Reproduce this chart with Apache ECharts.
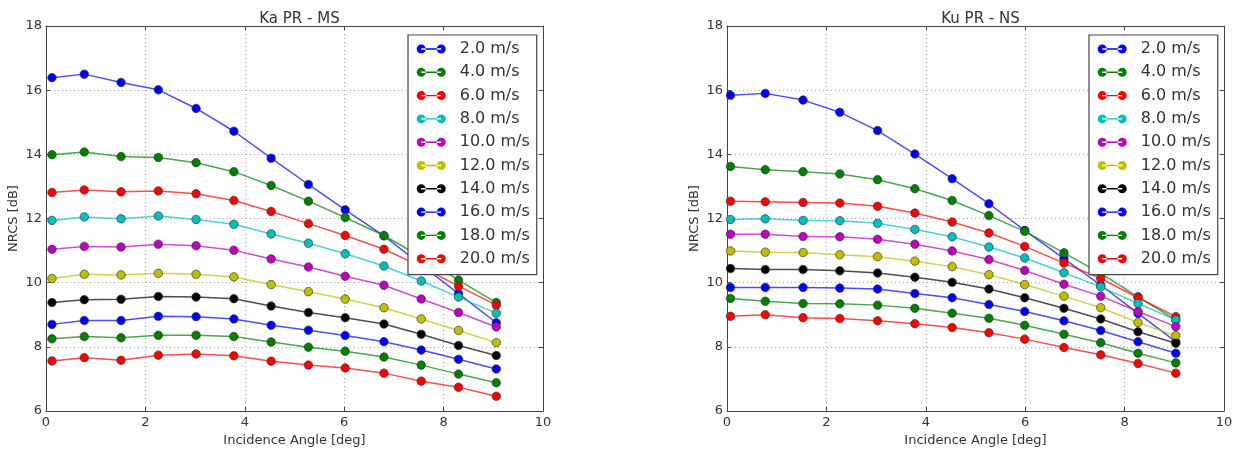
<!DOCTYPE html>
<html>
<head>
<meta charset="utf-8">
<script src="https://cdn.jsdelivr.net/npm/echarts@6/dist/echarts.min.js"></script>
<style>
html,body{margin:0;padding:0;background:#fff;}
#chart{width:1238px;height:460px;}
</style>
</head>
<body>
<div id="chart"></div>
<script>
// ---- data ----
const panelTitles = ['Ka PR - MS', 'Ku PR - NS'];
const xAxisName = 'Incidence Angle [deg]';
const yAxisName = 'NRCS [dB]';
const xTicks = [0, 2, 4, 6, 8, 10];
const yTicks = [6, 8, 10, 12, 14, 16, 18];
const speedLabels = ['2.0 m/s','4.0 m/s','6.0 m/s','8.0 m/s','10.0 m/s','12.0 m/s','14.0 m/s','16.0 m/s','18.0 m/s','20.0 m/s'];
const speedColors = ['#0000ff','#008000','#ff0000','#00bfbf','#bf00bf','#bfbf00','#000000','#0000ff','#008000','#ff0000'];

const kaAngles = [0.12, 0.77, 1.51, 2.26, 3.02, 3.78, 4.53, 5.28, 6.02, 6.80, 7.55, 8.30, 9.06];
const kuAngles = [0.07, 0.77, 1.53, 2.27, 3.03, 3.78, 4.53, 5.27, 5.99, 6.78, 7.52, 8.27, 9.03];

const ka02 = [16.39, 16.50, 16.24, 16.01, 15.43, 14.72, 13.88, 13.06, 12.27, 11.46, 10.55, 9.66, 8.75];
const ka04 = [13.99, 14.07, 13.93, 13.90, 13.74, 13.46, 13.03, 12.54, 12.03, 11.47, 10.80, 10.08, 9.38];
const ka06 = [12.81, 12.89, 12.83, 12.86, 12.77, 12.56, 12.22, 11.84, 11.47, 11.04, 10.50, 9.89, 9.30];
const ka08 = [11.94, 12.05, 11.99, 12.08, 11.97, 11.82, 11.52, 11.23, 10.90, 10.52, 10.05, 9.55, 9.05];
const ka10 = [11.04, 11.13, 11.11, 11.20, 11.15, 11.01, 10.74, 10.49, 10.20, 9.92, 9.49, 9.07, 8.62];
const ka12 = [10.13, 10.26, 10.24, 10.29, 10.26, 10.18, 9.94, 9.72, 9.49, 9.22, 8.87, 8.51, 8.13];
const ka14 = [9.38, 9.47, 9.48, 9.57, 9.55, 9.50, 9.27, 9.07, 8.91, 8.71, 8.39, 8.04, 7.73];
const ka16 = [8.70, 8.82, 8.82, 8.95, 8.94, 8.87, 8.67, 8.52, 8.35, 8.16, 7.90, 7.61, 7.31];
const ka18 = [8.25, 8.32, 8.28, 8.36, 8.36, 8.32, 8.15, 7.99, 7.86, 7.68, 7.43, 7.15, 6.88];
const ka20 = [7.56, 7.66, 7.58, 7.74, 7.78, 7.72, 7.55, 7.43, 7.34, 7.18, 6.93, 6.74, 6.46];

const ku02 = [15.84, 15.90, 15.69, 15.31, 14.74, 14.01, 13.24, 12.46, 11.63, 10.75, 9.92, 9.04, 8.16];
const ku04 = [13.62, 13.52, 13.46, 13.39, 13.21, 12.93, 12.56, 12.09, 11.60, 10.93, 10.29, 9.56, 8.84];
const ku06 = [12.54, 12.52, 12.50, 12.48, 12.38, 12.17, 11.89, 11.55, 11.13, 10.61, 10.13, 9.53, 8.94];
const ku08 = [11.97, 11.99, 11.94, 11.93, 11.85, 11.66, 11.43, 11.11, 10.77, 10.31, 9.87, 9.35, 8.84];
const ku10 = [11.51, 11.51, 11.44, 11.43, 11.35, 11.20, 10.99, 10.72, 10.38, 9.95, 9.58, 9.10, 8.63];
const ku12 = [10.99, 10.95, 10.94, 10.87, 10.81, 10.67, 10.50, 10.25, 9.94, 9.58, 9.22, 8.76, 8.35];
const ku14 = [10.44, 10.41, 10.41, 10.37, 10.30, 10.17, 10.01, 9.80, 9.53, 9.20, 8.87, 8.47, 8.11];
const ku16 = [9.85, 9.85, 9.85, 9.83, 9.80, 9.66, 9.53, 9.32, 9.10, 8.81, 8.51, 8.16, 7.80];
const ku18 = [9.51, 9.42, 9.35, 9.34, 9.30, 9.20, 9.05, 8.89, 8.67, 8.39, 8.13, 7.80, 7.50];
const ku20 = [8.95, 9.00, 8.91, 8.88, 8.81, 8.72, 8.60, 8.44, 8.24, 7.98, 7.75, 7.48, 7.18];

const kaSeries = [ka02, ka04, ka06, ka08, ka10, ka12, ka14, ka16, ka18, ka20];
const kuSeries = [ku02, ku04, ku06, ku08, ku10, ku12, ku14, ku16, ku18, ku20];

// ---- chart ----
const FONT = 'DejaVu Sans';
const TXT = '#333333';
const SPINE = '#444444';
const xMin = xTicks[0], xMax = xTicks[xTicks.length - 1], xStep = xTicks[1] - xTicks[0];
const yMin = yTicks[0], yMax = yTicks[yTicks.length - 1], yStep = yTicks[1] - yTicks[0];

const grids = [
  {left: 46, top: 26, width: 497, height: 385},
  {left: 727, top: 26, width: 497, height: 385}
];

const xAxes = [], yAxes = [];
grids.forEach((g, i) => {
  xAxes.push({
    type: 'value', gridIndex: i, min: xMin, max: xMax, interval: xStep,
    name: xAxisName, nameLocation: 'middle', nameGap: 22,
    nameTextStyle: {fontFamily: FONT, fontSize: 13, color: TXT},
    axisLine: {show: true, onZero: false, lineStyle: {color: SPINE, width: 1}},
    axisTick: {show: true, inside: true, length: 4, lineStyle: {color: SPINE}},
    axisLabel: {fontFamily: FONT, fontSize: 13, color: TXT, margin: 5},
    splitLine: {show: true, lineStyle: {color: '#a8a8a8', type: [1, 3], width: 1}}
  });
  xAxes.push({
    type: 'value', gridIndex: i, position: 'top', min: xMin, max: xMax, interval: xStep,
    axisLine: {show: true, onZero: false, lineStyle: {color: SPINE, width: 1}},
    axisTick: {show: true, inside: true, length: 4, lineStyle: {color: SPINE}},
    axisLabel: {show: false}, splitLine: {show: false}
  });
  yAxes.push({
    type: 'value', gridIndex: i, min: yMin, max: yMax, interval: yStep,
    name: yAxisName, nameLocation: 'middle', nameGap: 26, nameRotate: 90,
    nameTextStyle: {fontFamily: FONT, fontSize: 13, color: TXT},
    axisLine: {show: true, onZero: false, lineStyle: {color: SPINE, width: 1}},
    axisTick: {show: true, inside: true, length: 4, lineStyle: {color: SPINE}},
    axisLabel: {fontFamily: FONT, fontSize: 13, color: TXT, margin: 4},
    splitLine: {show: true, lineStyle: {color: '#a8a8a8', type: [1, 3], width: 1}}
  });
  yAxes.push({
    type: 'value', gridIndex: i, position: 'right', min: yMin, max: yMax, interval: yStep,
    axisLine: {show: true, onZero: false, lineStyle: {color: SPINE, width: 1}},
    axisTick: {show: true, inside: true, length: 4, lineStyle: {color: SPINE}},
    axisLabel: {show: false}, splitLine: {show: false}
  });
});

const series = [];
[[kaAngles, kaSeries], [kuAngles, kuSeries]].forEach(([angles, list], p) => {
  list.forEach((vals, k) => {
    series.push({
      type: 'line', name: speedLabels[k],
      xAxisIndex: p * 2, yAxisIndex: p * 2,
      data: angles.map((a, j) => [a, vals[j]]),
      symbol: 'circle', symbolSize: 8.5, showSymbol: true,
      lineStyle: {color: speedColors[k], width: 1.5, opacity: 0.7},
      itemStyle: {color: speedColors[k], borderColor: '#3a3a3a', borderWidth: 0.7},
      emphasis: {disabled: true},
      animation: false, z: 2 + k * 0.01
    });
  });
});

const legendIcon = 'path://M0,4.5a4.5,4.5 0 1,0 9,0a4.5,4.5 0 1,0 -9,0Z M20,4.5a4.5,4.5 0 1,0 9,0a4.5,4.5 0 1,0 -9,0Z M4.5,3.8L24.5,3.8L24.5,5.2L4.5,5.2Z';
function makeLegend(left) {
  return {
    left: left, top: 35, orient: 'vertical', data: speedLabels,
    icon: legendIcon, itemWidth: 29, itemHeight: 9, itemGap: 5.3,
    padding: [5, 7, 7, 8.7],
    backgroundColor: '#ffffff', borderColor: SPINE, borderWidth: 1.2, borderRadius: 0,
    selectedMode: false,
    itemStyle: {borderWidth: 0},
    textStyle: {fontFamily: FONT, fontSize: 16, color: TXT, lineHeight: 18, padding: [0, 0, 0, 9]},
    z: 10
  };
}

const option = {
  backgroundColor: '#ffffff',
  animation: false,
  title: panelTitles.map((t, i) => ({
    text: t, left: grids[i].left + grids[i].width / 2, top: 7, textAlign: 'center',
    textStyle: {fontFamily: FONT, fontSize: 15, fontWeight: 'normal', color: TXT}
  })),
  grid: grids,
  xAxis: xAxes,
  yAxis: yAxes,
  legend: [makeLegend(408), makeLegend(1089)],
  series: series
};

const chart = echarts.init(document.getElementById('chart'), null, {renderer: 'canvas'});
chart.setOption(option);
</script>
</body>
</html>
